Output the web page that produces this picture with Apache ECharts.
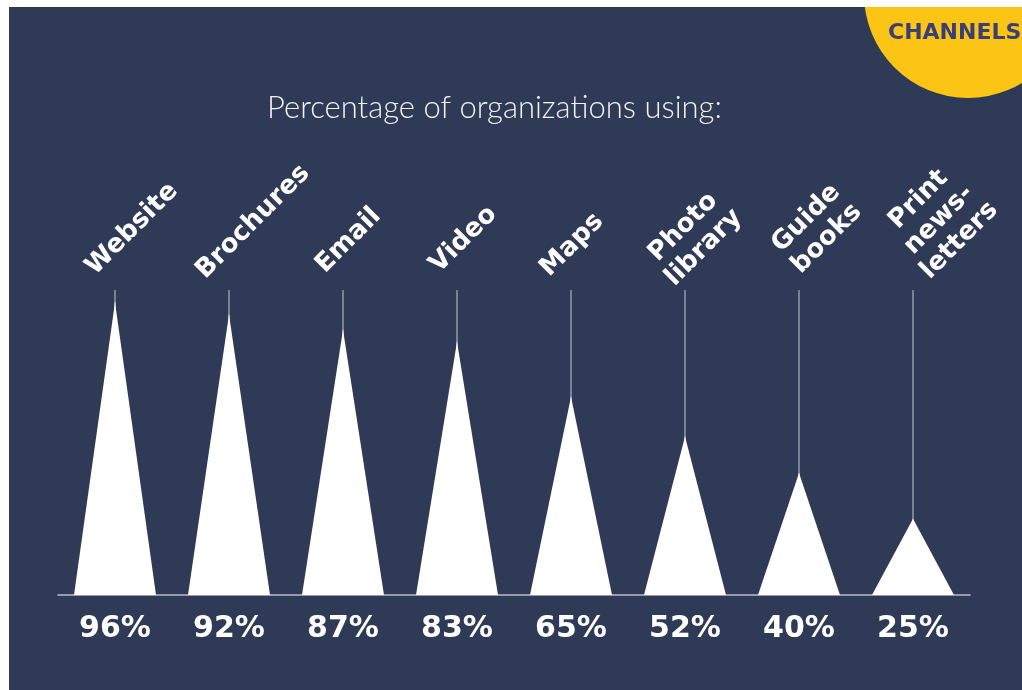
<!DOCTYPE html>
<html>
<head>
<meta charset="utf-8">
<style>
  html, body { margin: 0; padding: 0; background: #ffffff; }
  #chart { width: 1022px; height: 690px; }
</style>
<script src="https://cdn.jsdelivr.net/npm/echarts/dist/echarts.min.js"></script>
</head>
<body>
<div id="chart"></div>
<script>
// ---- data ----
const categories = ['Website', 'Brochures', 'Email', 'Video', 'Maps', 'Photo\nlibrary', 'Guide\nbooks', 'Print\nnews-\nletters'];
const values = [96, 92, 87, 83, 65, 52, 40, 25];
const titleText = 'Percentage of organizations using:';
const badgeText = 'CHANNELS';

// ---- styling ----
const NAVY = '#2f3a57';
const LINE = '#c3c7d2';
// per-label nudge in screen pixels [dx, dy] (rotated labels were hand-placed in the original)
const labelShift = [[17, -17], [21, -27], [4, -7], [7, -6], [1, -1], [6, -11], [19, -16], [34, -18]];

function paddingFor(shift) {
  const dx = shift[0], dy = shift[1];
  const a = (dx - dy) / Math.SQRT2; // along text direction
  const b = (dx + dy) / Math.SQRT2; // perpendicular (down in text frame)
  return [Math.max(0, 2 * b), Math.max(0, -2 * a), Math.max(0, -2 * b), Math.max(0, 2 * a)];
}

const axisData = categories.map((c, i) => ({
  value: c,
  textStyle: {
    align: 'center',
    verticalAlign: 'middle',
    padding: paddingFor(labelShift[i])
  }
}));

const chart = echarts.init(document.getElementById('chart'), null, { renderer: 'canvas' });

chart.setOption({
  backgroundColor: NAVY,
  animation: false,
  title: {
    text: titleText,
    left: 262,
    top: 87,
    textStyle: { color: '#f2f2f2', fontFamily: 'Lato', fontWeight: 300, fontSize: 31 }
  },
  grid: { left: 58, right: 52, top: 290, bottom: 95, containLabel: false, outerBoundsMode: 'none' },
  xAxis: [{
    type: 'category',
    data: axisData,
    position: 'top',
    axisLine: { show: false },
    axisTick: { show: false },
    axisLabel: {
      interval: 0,
      rotate: 45,
      margin: 44,
      align: 'center',
      verticalAlign: 'middle',
      color: '#ffffff',
      fontFamily: 'DejaVu Sans',
      fontWeight: 'bold',
      fontSize: 26,
      lineHeight: 29,
      hideOverlap: false
    }
  }, {
    type: 'category',
    data: categories,
    position: 'bottom',
    axisLine: { show: true, lineStyle: { color: '#b9bdca', width: 1.5 } },
    axisTick: { show: false },
    axisLabel: { show: false }
  }],
  yAxis: {
    type: 'value',
    min: 0,
    max: 100,
    show: false,
    splitLine: { show: false }
  },
  series: [{
    name: 'guide',
    type: 'bar',
    data: values,
    barWidth: 1,
    showBackground: true,
    backgroundStyle: { color: LINE },
    itemStyle: { color: LINE },
    label: {
      show: true,
      position: 'bottom',
      distance: 19,
      formatter: '{c}%',
      color: '#ffffff',
      fontFamily: 'DejaVu Sans',
      fontWeight: 'bold',
      fontSize: 30
    },
    z: 2
  }, {
    name: 'share',
    type: 'pictorialBar',
    data: values,
    symbol: 'triangle',
    symbolSize: [82, '100%'],
    itemStyle: { color: '#ffffff' },
    z: 3
  }],
  graphic: [
    { type: 'circle', shape: { cx: 968, cy: -6, r: 104 }, style: { fill: '#fcc414' }, z: 10 },
    { type: 'text', left: 888, top: 22, style: { text: badgeText, fill: '#3b3f78', font: 'bold 22px "DejaVu Sans"' }, z: 11 },
    { type: 'rect', shape: { x: 0, y: 0, width: 1022, height: 7 }, style: { fill: '#ffffff' }, z: 20 },
    { type: 'rect', shape: { x: 0, y: 0, width: 9, height: 690 }, style: { fill: '#ffffff' }, z: 20 }
  ]
});
</script>
</body>
</html>
